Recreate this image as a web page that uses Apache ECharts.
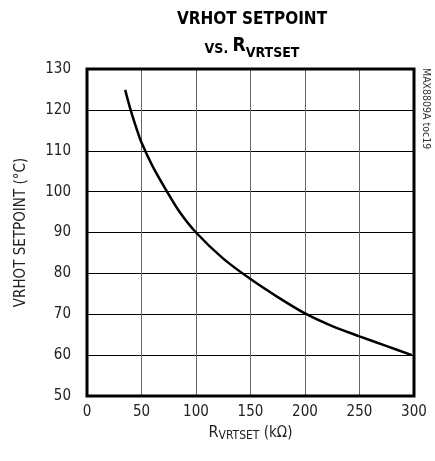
<!DOCTYPE html>
<html><head><meta charset="utf-8">
<script src="https://cdn.jsdelivr.net/npm/echarts@6/dist/echarts.min.js"></script>
<style>html,body{margin:0;padding:0;background:#fff}#c{width:435px;height:461px}</style>
</head><body><div id="c"></div>
<script>
var rValues = [35, 40, 45, 50, 60, 73.4, 85, 100, 125, 150, 175, 200, 225, 250, 275, 298];
var tempValues = [124.9, 120, 115.8, 112, 106.3, 100, 95.0, 90, 83.6, 78.6, 74.2, 70.2, 67.1, 64.6, 62.2, 60];
var xTicks = [0, 50, 100, 150, 200, 250, 300];
var yTicks = [50, 60, 70, 80, 90, 100, 110, 120, 130];
var FONT = '"DejaVu Sans Condensed", "Liberation Sans Narrow", sans-serif';
var chart = echarts.init(document.getElementById('c'));
chart.setOption({
  animation: false,
  backgroundColor: '#fff',
  title: {
    text: '{a|VRHOT SETPOINT}\n{b|VS. }{r|R}{s|VRTSET}',
    left: 247, top: 3, textAlign: 'center',
    textStyle: {
      rich: {
        a: {fontFamily: FONT, fontWeight: 'bold', fontSize: 17, color: '#000', lineHeight: 24},
        b: {fontFamily: FONT, fontWeight: 'bold', fontSize: 14, color: '#000', lineHeight: 24, verticalAlign: 'bottom'},
        r: {fontFamily: FONT, fontWeight: 'bold', fontSize: 19, color: '#000', lineHeight: 24, verticalAlign: 'bottom'},
        s: {fontFamily: FONT, fontWeight: 'bold', fontSize: 14, color: '#000', lineHeight: 20, verticalAlign: 'bottom', padding: [0,0,-4,0]}
      }
    }
  },
  grid: {left: 87, right: 21, top: 69, bottom: 65, show: false},
  xAxis: {
    type: 'value', min: 0, max: 300, interval: 50,
    name: '{r|R}{s|VRTSET}{n| (kΩ)}', nameLocation: 'middle', nameGap: 28,
    nameTextStyle: {rich: {
      r: {fontFamily: FONT, fontSize: 16, color: '#222'},
      s: {fontFamily: FONT, fontSize: 12, color: '#222', padding: [5,0,0,0]},
      n: {fontFamily: FONT, fontSize: 15, color: '#222'}
    }},
    axisLine: {show: false}, axisTick: {show: false},
    axisLabel: {fontFamily: FONT, fontSize: 15, color: '#222', margin: 9,
      formatter: function(v){ return xTicks.indexOf(v) >= 0 ? String(v) : ''; }},
    splitLine: {show: true, lineStyle: {color: '#666', width: 1}}
  },
  yAxis: {
    type: 'value', min: 50, max: 130, interval: 10,
    name: 'VRHOT SETPOINT (°C)', nameLocation: 'middle', nameGap: 58,
    nameTextStyle: {fontFamily: FONT, fontSize: 15, color: '#222'},
    axisLine: {show: false}, axisTick: {show: false},
    axisLabel: {fontFamily: FONT, fontSize: 15, color: '#222', margin: 16,
      formatter: function(v){ return yTicks.indexOf(v) >= 0 ? String(v) : ''; }},
    splitLine: {show: true, lineStyle: {color: '#000', width: 1}}
  },
  graphic: [
    {type: 'rect', shape: {x: 87, y: 69, width: 327, height: 327}, style: {fill: 'none', stroke: '#000', lineWidth: 3}, z: 100},
    {type: 'text', x: 431, y: 68, rotation: -Math.PI/2,
      style: {text: 'MAX8809A toc19', font: '10.5px ' + FONT, fill: '#333'}}
  ],
  series: [{
    type: 'line', smooth: 0.3, symbol: 'none',
    data: rValues.map(function(r, i){ return [r, tempValues[i]]; }),
    lineStyle: {color: '#000', width: 2.5}
  }]
});
</script></body></html>
